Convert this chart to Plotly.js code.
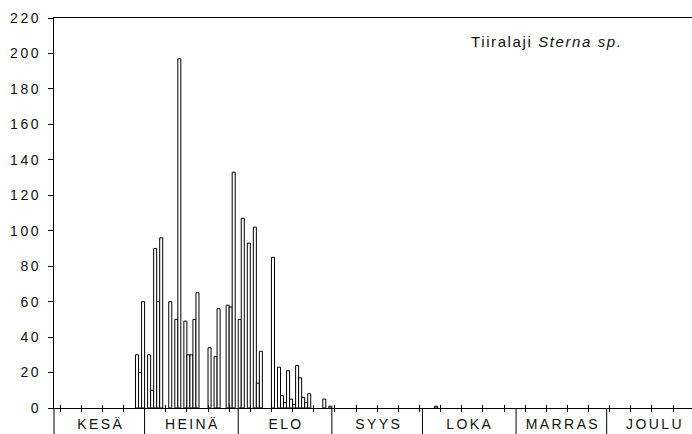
<!DOCTYPE html>
<html>
<head>
<meta charset="utf-8">
<script src="https://cdn.plot.ly/plotly-3.0.1.min.js"></script>
<style>
html, body { margin: 0; padding: 0; background: #fff; }
#chart { width: 692px; height: 434px; }
#chart .ytick text { letter-spacing: 2.6px; }
#chart .annotation text { letter-spacing: 2.4px; }
#chart .annotation[data-index="7"] text { letter-spacing: 1.6px; }
</style>
</head>
<body>
<div id="chart"></div>
<script>
// Day index counted from 1 June (0 = 1 June); bar for day d spans [d, d+1]
const dayIndex = [27, 28, 29, 31, 32, 33, 34, 35, 38, 40, 41, 43, 44, 45, 46, 47,
                  51, 53, 54, 57, 58, 59, 61, 62, 64, 66, 67, 68, 72,
                  74, 75, 76, 77, 78, 79, 80, 81, 82, 83, 84, 89, 91, 126];
const counts   = [30, 20, 60, 30, 10, 90, 60, 96, 60, 50, 197, 49, 30, 30, 50, 65,
                  34, 29, 56, 58, 57, 133, 50, 107, 93, 102, 14, 32, 85,
                  23, 7, 3, 21, 5, 2, 24, 17, 6, 3, 8, 5, 1, 1];

const monthNames   = ['KESÄ', 'HEINÄ', 'ELO', 'SYYS', 'LOKA', 'MARRAS', 'JOULU'];
const monthLengths = [30, 31, 31, 30, 31, 30, 31];
const yTicks = [0, 20, 40, 60, 80, 100, 120, 140, 160, 180, 200, 220];
const titleText = 'Tiiralaji <i>Sterna sp.</i>';

const FONT = '"Liberation Sans", Arial, sans-serif';
const xRange = [0, 211.25];

// month start positions
const monthStarts = [];
let acc = 0;
for (const len of monthLengths) { monthStarts.push(acc); acc += len; }

// weekly minor ticks
const weekTicks = [];
for (let d = 2; d <= 211; d += 7) weekTicks.push(d);

const barX = dayIndex.map(d => d + 0.5);

const traces = [
  {
    type: 'bar',
    x: barX,
    y: counts,
    width: 1,
    marker: { color: '#ffffff', line: { color: '#000000', width: 1 } },
    hoverinfo: 'skip'
  },
  { type: 'scatter', x: [], y: [], xaxis: 'x2', yaxis: 'y', showlegend: false }
];

const belowFrac = -26 / 390;
const shapes = [
  { type: 'line', xref: 'paper', yref: 'paper', x0: 0, x1: 0, y0: 0, y1: belowFrac,
    line: { color: '#000', width: 1 } }
];
const annotations = [];
monthStarts.forEach((s, i) => {
  if (i > 0) {
    shapes.push({ type: 'line', xref: 'x', yref: 'paper', x0: s, x1: s, y0: 0, y1: belowFrac,
                  line: { color: '#000', width: 1 } });
  }
  annotations.push({
    xref: 'x', yref: 'paper', x: s + monthLengths[i] / 2 + 0.4, y: -0.041,
    text: monthNames[i], showarrow: false, xanchor: 'center', yanchor: 'middle',
    font: { family: FONT, size: 14, color: '#111' }
  });
});
annotations.push({
  xref: 'paper', yref: 'paper', x: 0.773, y: 0.941, text: titleText, showarrow: false,
  xanchor: 'center', yanchor: 'middle', font: { family: FONT, size: 15, color: '#111' }
});

const layout = {
  width: 692, height: 434,
  margin: { l: 54, r: 0, t: 18, b: 26, pad: 0 },
  paper_bgcolor: '#fff', plot_bgcolor: '#fff',
  showlegend: false,
  bargap: 0,
  font: { family: FONT, size: 14, color: '#111' },
  xaxis: {
    range: xRange, showgrid: false, zeroline: false,
    showline: true, linecolor: '#000', linewidth: 1, mirror: true,
    ticks: 'outside', ticklen: 3, tickcolor: '#000', tickwidth: 1,
    tickmode: 'array', tickvals: weekTicks, showticklabels: false, fixedrange: true
  },
  xaxis2: {
    overlaying: 'x', anchor: 'y', side: 'bottom', matches: 'x',
    range: xRange, showgrid: false, zeroline: false, showline: false,
    ticks: 'inside', ticklen: 3, tickcolor: '#000', tickwidth: 1,
    tickmode: 'array', tickvals: weekTicks, showticklabels: false
  },
  yaxis: {
    range: [0, 220], showgrid: false, zeroline: false,
    showline: true, linecolor: '#000', linewidth: 1,
    ticks: 'outside', ticklen: 5, tickcolor: '#000', tickwidth: 1,
    tickmode: 'array', tickvals: yTicks, ticktext: yTicks.map(String),
    tickfont: { family: FONT, size: 14, color: '#111' },
    ticklabelstandoff: 4, fixedrange: true
  },
  shapes: shapes,
  annotations: annotations
};

Plotly.newPlot('chart', traces, layout, { staticPlot: true, displayModeBar: false });
</script>
</body>
</html>
